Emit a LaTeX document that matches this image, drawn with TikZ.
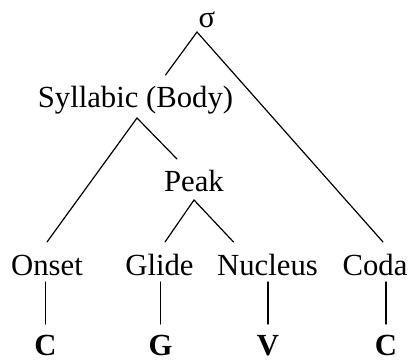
\documentclass[tikz,border=0pt]{standalone}
\usepackage{fontspec}
\setmainfont{Liberation Serif}
\begin{document}
\begin{tikzpicture}[x=1pt,y=-1pt,
  lbl/.style={inner sep=0pt,anchor=base,font=\fontsize{30.7}{36}\selectfont},
  seg/.style={inner sep=0pt,anchor=base,font=\fontsize{30.7}{36}\selectfont\bfseries},
  edge/.style={line width=1.2pt,line cap=round}]
\useasboundingbox (0,0) rectangle (413,361);
% constituent labels
\node[lbl] (sigma) at (207,28) {σ};
\node[lbl] (syl) at (135.5,108) {Syllabic (Body)};
\node[lbl] (peak) at (194,192) {Peak};
\node[lbl] (onset) at (47,275) {Onset};
\node[lbl] (glide) at (159.5,275) {Glide};
\node[lbl] (nucleus) at (267.5,275) {Nucleus};
\node[lbl] (coda) at (375,275) {Coda};
% skeletal slots
\node[seg] (c1) at (45.5,355) {C};
\node[seg] (g) at (160.5,355) {G};
\node[seg] (v) at (268,355) {V};
\node[seg] (c2) at (386,355) {C};
% branches
\draw[edge] ([shift={(30pt,33pt)}]syl.base) -- ([shift={(-10pt,-4pt)}]sigma.base)
  -- ([shift={(8pt,33pt)}]coda.base);
\draw[edge] ([shift={(0pt,33pt)}]onset.base) -- ([shift={(1.5pt,-10pt)}]syl.base)
  -- ([shift={(-17pt,33pt)}]peak.base);
\draw[edge] ([shift={(5.5pt,33pt)}]glide.base) -- ([shift={(0pt,-8pt)}]peak.base)
  -- ([shift={(-34pt,33pt)}]nucleus.base);
% association lines
\foreach \s in {c1,g,v,c2}
  \draw[edge] ([yshift=31pt]\s.base) -- ([yshift=73pt]\s.base);
\end{tikzpicture}
\end{document}
